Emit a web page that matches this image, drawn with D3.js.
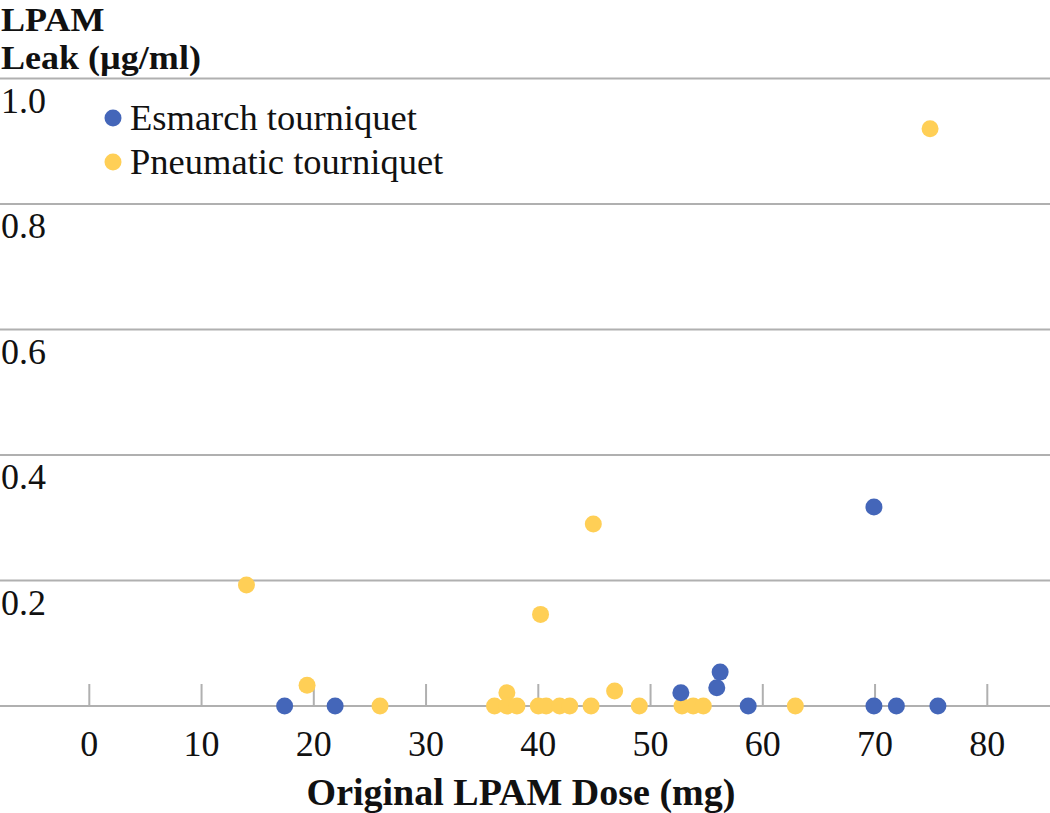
<!DOCTYPE html>
<html><head><meta charset="utf-8">
<script src="https://cdn.jsdelivr.net/npm/d3@7"></script>
<style>html,body{margin:0;padding:0;background:#fff;}svg{display:block;}</style>
</head><body>
<svg id="c" width="1050" height="813"></svg>
<script>
const seriesNames = ["Esmarch tourniquet", "Pneumatic tourniquet"];
const esmarchDose = [17.4, 21.9, 52.7, 55.9, 56.2, 58.7, 69.9, 69.9, 71.9, 75.6];
const esmarchLeak = [0, 0, 0.021, 0.029, 0.054, 0, 0.317, 0, 0, 0];
const pneumaticDose = [14.0, 19.4, 25.9, 36.1, 37.2, 37.2, 38.1, 40.0, 40.2, 40.7, 41.9, 42.8, 44.7, 44.9, 46.8, 49.0, 52.8, 53.8, 54.7, 62.9, 74.9];
const pneumaticLeak = [0.193, 0.033, 0, 0, 0.021, 0, 0, 0, 0.146, 0, 0, 0, 0, 0.29, 0.024, 0, 0, 0, 0, 0, 0.92];
const xTicks = [0, 10, 20, 30, 40, 50, 60, 70, 80];
const yTicks = [0.2, 0.4, 0.6, 0.8, 1.0];
const yTitle = ["LPAM", "Leak (µg/ml)"];
const xTitle = "Original LPAM Dose (mg)";

const W = 1050, H = 813;
const colors = ["#4466b9", "#ffcf56"];
const svg = d3.select("#c");
const font = "'Liberation Serif','Times New Roman',serif";
const x = d3.scaleLinear().domain([0, 80]).range([89.3, 987.3]);
const y = d3.scaleLinear().domain([0, 1]).range([706, 78.5]);
const grid = "#b0b0b0";

// gridlines
svg.append("g").selectAll("line").data([0].concat(yTicks)).join("line")
  .attr("x1", 0).attr("x2", W)
  .attr("y1", d => y(d)).attr("y2", d => y(d))
  .attr("stroke", grid).attr("stroke-width", 2);

// x ticks
svg.append("g").selectAll("line").data(xTicks).join("line")
  .attr("x1", d => x(d)).attr("x2", d => x(d))
  .attr("y1", y(0) - 22).attr("y2", y(0))
  .attr("stroke", grid).attr("stroke-width", 2);

svg.append("g").selectAll("text").data(xTicks).join("text")
  .attr("x", d => x(d)).attr("y", 756)
  .attr("text-anchor", "middle")
  .attr("font-family", font).attr("font-size", 36).attr("fill", "#111")
  .text(d => d);

// y labels
svg.append("g").selectAll("text").data(yTicks).join("text")
  .attr("x", 1).attr("y", d => y(d) + 34)
  .attr("font-family", font).attr("font-size", 36).attr("fill", "#111")
  .text(d => d3.format(".1f")(d));

// y title
svg.append("g").attr("transform", "scale(1.06,1)")
  .selectAll("text").data(yTitle).join("text")
  .attr("x", 1).attr("y", (d, i) => 31 + i * 38)
  .attr("font-family", font).attr("font-size", 34).attr("font-weight", "bold").attr("fill", "#111")
  .text(d => d);

// x title
svg.append("text").attr("x", 521).attr("y", 805)
  .attr("text-anchor", "middle")
  .attr("font-family", font).attr("font-size", 38).attr("font-weight", "bold").attr("fill", "#111")
  .text(xTitle);

// points
const pn = pneumaticDose.map((d, i) => ({x: d, y: pneumaticLeak[i]}));
const es = esmarchDose.map((d, i) => ({x: d, y: esmarchLeak[i]}));
svg.append("g").selectAll("circle").data(pn).join("circle")
  .attr("cx", d => x(d.x)).attr("cy", d => y(d.y)).attr("r", 8.5).attr("fill", colors[1]);
svg.append("g").selectAll("circle").data(es).join("circle")
  .attr("cx", d => x(d.x)).attr("cy", d => y(d.y)).attr("r", 8.5).attr("fill", colors[0]);

// legend
const lg = svg.append("g").selectAll("g").data(seriesNames).join("g")
  .attr("transform", (d, i) => `translate(0,${118 + i * 44})`);
lg.append("circle").attr("cx", 113).attr("cy", 0).attr("r", 8.5).attr("fill", (d, i) => colors[i]);
lg.append("text").attr("x", 130).attr("y", 12)
  .attr("font-family", font).attr("font-size", 36.5).attr("fill", "#111")
  .text(d => d);
</script>
</body></html>
